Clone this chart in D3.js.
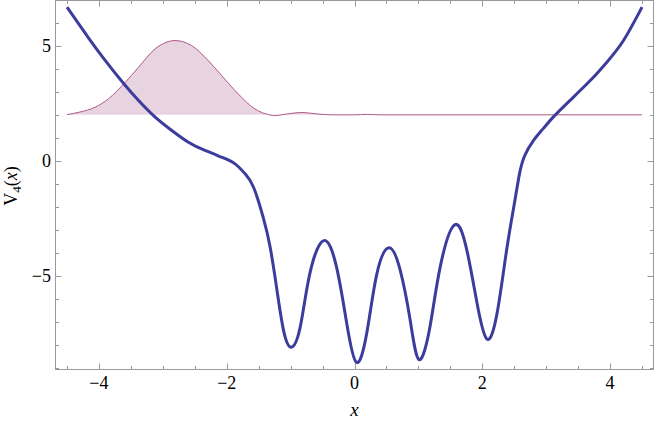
<!DOCTYPE html>
<html><head><meta charset="utf-8">
<script src="https://cdn.jsdelivr.net/npm/d3@7"></script>
<style>
body{margin:0;background:#fff;}
svg{display:block;}
.tx{font-family:"Times New Roman",Times,serif;}
.ty{font-family:serif;}
</style></head>
<body>
<svg id="chart" width="654" height="421"></svg>
<script>
// Potential V4(x): sampled points
const potX = [-4.5,-4.17,-3.9,-3.61,-3.38,-3.12,-2.86,-2.6,-2.34,-2.08,-1.87,-1.71,-1.58,-1.43,-1.32,-1.22,-1.11,-0.99,-0.85,-0.70,-0.48,-0.28,-0.12,0.03,0.19,0.35,0.54,0.71,0.87,1.01,1.18,1.34,1.57,1.76,1.91,2.07,2.23,2.38,2.51,2.58,2.66,2.80,2.95,3.11,3.37,3.69,3.95,4.21,4.5];
const potV = [6.68,5.37,4.36,3.35,2.62,1.90,1.32,0.81,0.45,0.16,-0.13,-0.57,-1.15,-2.45,-3.76,-5.5,-7.38,-8.1,-7.23,-4.91,-3.47,-4.63,-7.09,-8.76,-7.52,-4.91,-3.78,-4.7,-6.9,-8.64,-7.23,-4.63,-2.78,-3.90,-6.07,-7.74,-6.65,-3.90,-1.73,-0.6,0.2,0.88,1.39,1.90,2.62,3.49,4.29,5.23,6.68];
// Probability density (shifted to energy level)
const energy = 2.0;
const densX = [-4.5,-4.3,-4.06,-3.85,-3.61,-3.38,-3.12,-2.95,-2.81,-2.55,-2.29,-2.08,-1.82,-1.56,-1.40,-1.24,-1.10,-0.83,-0.55,-0.35,0.0,0.19,0.4,4.5];
const densV = [2.01,2.12,2.33,2.70,3.35,4.07,4.87,5.15,5.23,5.01,4.36,3.71,2.91,2.26,2.05,1.97,2.02,2.1,2.03,2.0,2.0,2.02,2.0,2.0];
const xTicks = [-4,-2,0,2,4];
const yTicks = [-5,0,5];

const svg = d3.select("#chart");
const L = 55.5, R = 653.5, T = 0.5, B = 369.5;
const x = d3.scaleLinear().domain([-4.68,4.68]).range([L,R]);
const y = d3.scaleLinear().domain([-9.07,6.97]).range([B,T]);

const pot = potX.map((d,i)=>[d,potV[i]]);
const dens = densX.map((d,i)=>[d,densV[i]]);

// density fill
svg.append("path").datum(dens)
  .attr("d", d3.area().x(d=>x(d[0])).y0(y(energy)).y1(d=>y(d[1])).curve(d3.curveMonotoneX))
  .attr("fill","#e8d3e0").attr("stroke","none");
svg.append("path").datum(dens)
  .attr("d", d3.line().x(d=>x(d[0])).y(d=>y(d[1])).curve(d3.curveMonotoneX))
  .attr("fill","none").attr("stroke","#b0588a").attr("stroke-width",1);

// potential
svg.append("path").datum(pot)
  .attr("d", d3.line().x(d=>x(d[0])).y(d=>y(d[1])).curve(d3.curveNatural))
  .attr("fill","none").attr("stroke","#3c3c9c").attr("stroke-width",3).attr("stroke-linejoin","round");

// frame
svg.append("rect").attr("x",L).attr("y",T).attr("width",R-L).attr("height",B-T)
  .attr("stroke","#9a9a9a").attr("stroke-width",1).attr("fill","none");

// ticks
const xMinor = d3.range(-4.5,4.51,0.5);
const yMinor = d3.range(-9,7.01,1);
const tk = svg.append("g").attr("stroke","#9a9a9a").attr("stroke-width",1);
xMinor.forEach(v=>{
  const major = xTicks.includes(v);
  const len = major?6:3.5;
  const px = Math.round(x(v))+0.5;
  tk.append("line").attr("x1",px).attr("x2",px).attr("y1",B).attr("y2",B-len);
  tk.append("line").attr("x1",px).attr("x2",px).attr("y1",T).attr("y2",T+len);
});
yMinor.forEach(v=>{
  const major = yTicks.includes(v);
  const len = major?6:3.5;
  const py = Math.round(y(v))+0.5;
  tk.append("line").attr("y1",py).attr("y2",py).attr("x1",L).attr("x2",L+len);
  tk.append("line").attr("y1",py).attr("y2",py).attr("x1",R).attr("x2",R-len);
});

const fmt = v => v<0 ? "\u2212"+Math.abs(v) : String(v);
svg.append("g").attr("class","tx").selectAll("text").data(xTicks).join("text")
  .attr("x",d=>x(d)).attr("y",389).attr("text-anchor","middle")
  .attr("font-size",18).text(fmt);
svg.append("g").attr("class","ty").selectAll("text").data(yTicks).join("text")
  .attr("x",51).attr("y",d=>y(d)).attr("dy","0.35em").attr("text-anchor","end")
  .attr("font-size",18).text(fmt);

// axis labels
svg.append("text").attr("class","tx").attr("x",x(0)).attr("y",416).attr("text-anchor","middle")
  .attr("font-size",19).attr("font-style","italic").text("x");
const yl = svg.append("text").attr("class","tx").attr("transform","translate(17,186) rotate(-90)")
  .attr("text-anchor","middle").attr("font-size",18);
yl.append("tspan").text("V");
yl.append("tspan").attr("font-size",13).attr("dy",4).text("4");
yl.append("tspan").attr("dy",-4).text("(");
yl.append("tspan").attr("font-style","italic").text("x");
yl.append("tspan").text(")");
</script>
</body></html>
